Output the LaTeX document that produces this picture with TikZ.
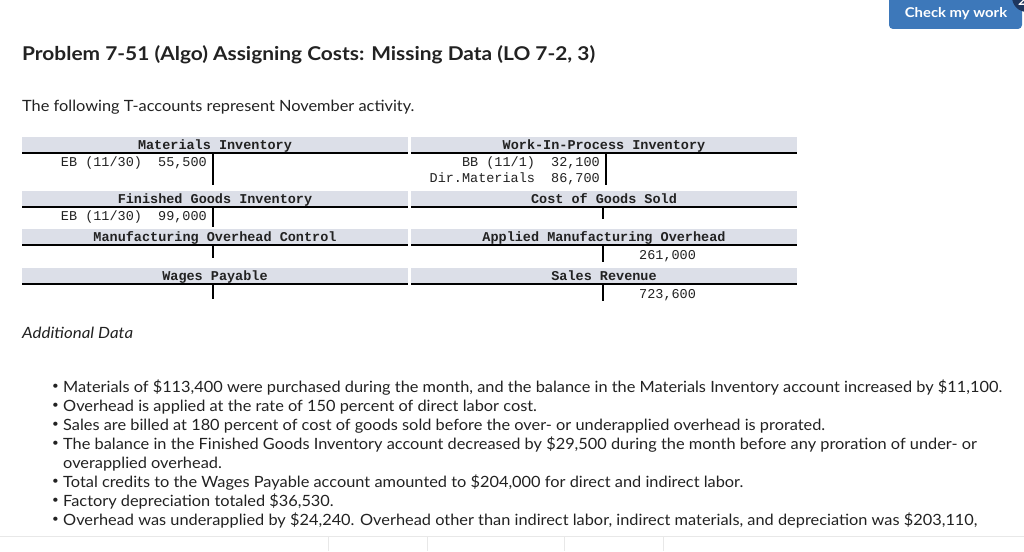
\documentclass[tikz,border=0pt]{standalone}
\usepackage{fontspec}
\setmainfont{Lato}[FakeStretch=1.055]
\newfontfamily\titlefam{Lato}[FakeStretch=1.1]
\newfontfamily\itfam{Lato}[FakeStretch=1.09]
\setmonofont{Liberation Mono}
\definecolor{barc}{RGB}{220,223,232}
\definecolor{btnc}{RGB}{61,120,186}
\definecolor{badgec}{RGB}{30,55,95}
\definecolor{txtc}{RGB}{34,34,34}
\definecolor{faint}{RGB}{232,232,232}
\tikzset{
  hdr/.style={font=\fontsize{13.5}{14}\selectfont\ttfamily\bfseries, anchor=base, inner sep=0pt, text=txtc},
  ent/.style={font=\fontsize{13.5}{14}\selectfont\ttfamily, inner sep=0pt, text=txtc},
  body/.style={font=\fontsize{15.5}{18}\selectfont, anchor=base west, inner sep=0pt, text=txtc},
  bul/.style={font=\fontsize{11}{12}\selectfont, anchor=base west, inner sep=0pt, text=txtc},
  bar/.style={fill=barc, draw=none},
  rule/.style={line width=2pt, black},
  tstem/.style={line width=2pt, black},
}
\newcommand{\taccount}[6]{% name, x1, x2, ytop, stem x, stem bottom
  \fill[bar] (#2,#4) rectangle (#3,#4+16);
  \draw[rule] (#2,#4+16) -- (#3,#4+16);
  \coordinate (#1-top) at (#5,#4+16);
  \coordinate (#1-bot) at (#5,#6);
  \draw[tstem] (#1-top) -- (#1-bot);
}
\begin{document}
\begin{tikzpicture}[x=1pt,y=-1pt]
\useasboundingbox (0,0) rectangle (1024,551);
\fill[white] (0,0) rectangle (1024,551);
% button
\fill[btnc, rounded corners=4pt] (889,-6) rectangle (1022,29);
\node[font=\fontsize{13.5}{16}\selectfont\titlefam\bfseries, text=white, inner sep=0pt] (btn) at (956,14) {Check my work};
\fill[badgec] (1027,-3) circle (15);
\node[font=\fontsize{13}{14}\selectfont\bfseries, text=white, inner sep=0pt, anchor=base] (badge) at (1022,6) {2};
% title
\node[font=\fontsize{19}{22}\selectfont\titlefam\bfseries, anchor=base west, inner sep=0pt, text=txtc] (title) at (22,60) {Problem 7-51 (Algo) Assigning Costs: Missing Data (LO 7-2, 3)};
\node[body] (intro) at (22,111) {The following T-accounts represent November activity.};
% T-accounts left column
\taccount{mi}{22}{408}{137}{213}{185}
\node[hdr] (mih) at (215,149) {Materials Inventory};
\node[ent, anchor=base east] (mie) at (207,166) {EB (11/30)\ \ 55,500};
\taccount{fg}{22}{408}{191}{213}{227}
\node[hdr] (fgh) at (215,203) {Finished Goods Inventory};
\node[ent, anchor=base east] (fge) at (207,220) {EB (11/30)\ \ 99,000};
\taccount{moc}{22}{408}{229}{213}{258}
\node[hdr] (moch) at (215,241) {Manufacturing Overhead Control};
\taccount{wp}{22}{408}{268}{213}{299}
\node[hdr] (wph) at (215,280) {Wages Payable};
% right column
\taccount{wip}{411}{797}{137}{606}{185}
\node[hdr] (wiph) at (604,149) {Work-In-Process Inventory};
\node[ent, anchor=base east] (wip1) at (600,166) {BB (11/1)\ \ 32,100};
\node[ent, anchor=base east] (wip2) at (600,182) {Dir.Materials\ \ 86,700};
\taccount{cogs}{411}{797}{191}{603}{219}
\node[hdr] (cogsh) at (604,203) {Cost of Goods Sold};
\taccount{amo}{411}{797}{229}{603}{262}
\node[hdr] (amoh) at (604,241) {Applied Manufacturing Overhead};
\node[ent, anchor=base west] (amoe) at (639,259) {261,000};
\taccount{sr}{411}{797}{268}{603}{301}
\node[hdr] (srh) at (604,280) {Sales Revenue};
\node[ent, anchor=base west] (sre) at (639,298) {723,600};
% additional data
\node[body, font=\fontsize{15.5}{18}\selectfont\itfam\itshape] (add) at (22,338) {Additional Data};
\foreach \i/\t in {0/{Materials of \$113,400 were purchased during the month, and the balance in the Materials Inventory account increased by \$11,100.},
  1/{Overhead is applied at the rate of 150 percent of direct labor cost.},
  2/{Sales are billed at 180 percent of cost of goods sold before the over- or underapplied overhead is prorated.},
  3/{The balance in the Finished Goods Inventory account decreased by \$29,500 during the month before any proration of under- or},
  5/{Total credits to the Wages Payable account amounted to \$204,000 for direct and indirect labor.},
  6/{Factory depreciation totaled \$36,530.},
  7/{Overhead was underapplied by \$24,240. Overhead other than indirect labor, indirect materials, and depreciation was \$203,110,}}{
  \node[bul] (b\i) at (52,389+19*\i) {•};
  \node[body] (t\i) at (63,392+19*\i) {\t};
}
\node[body] (t4) at (63,468) {overapplied overhead.};
% bottom faint lines
\draw[faint, line width=1pt] (0,536) -- (1024,536);
\foreach \xx in {328,427,564,663}{\draw[faint, line width=1pt] (\xx,536) -- (\xx,551);}
\end{tikzpicture}
\end{document}
